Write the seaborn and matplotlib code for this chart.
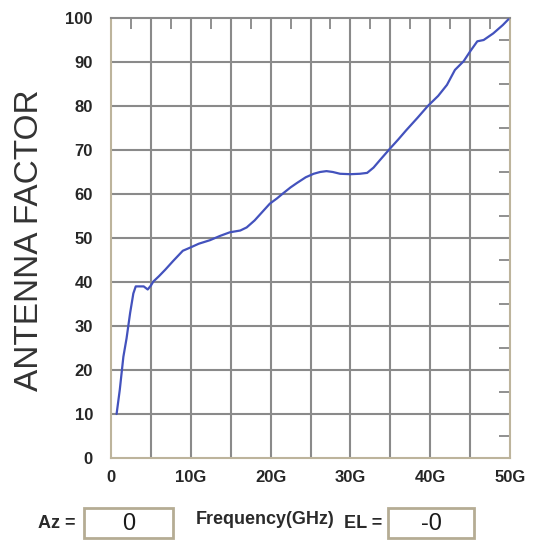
import matplotlib
matplotlib.use("Agg")
import matplotlib.pyplot as plt
from matplotlib.patches import Rectangle
import seaborn as sns
import pandas as pd

# Antenna factor vs frequency (GHz)
freq_ghz = [0.7, 1.1, 1.55, 1.95, 2.4, 2.8, 3.1, 3.6, 4.1, 4.6, 5.0, 5.3,
            6.0, 6.8, 7.8, 9.0, 9.9, 11.0, 12.4, 13.7, 14.9, 16.2, 17.0,
            18.0, 19.0, 19.9, 20.8, 21.6, 22.5, 23.3, 24.4, 25.4, 26.2,
            27.0, 27.8, 28.7, 30.0, 31.2, 32.1, 32.9, 33.7, 35.0, 36.0,
            37.0, 38.4, 39.7, 41.0, 42.1, 43.1, 44.2, 45.0, 45.9, 46.7,
            47.9, 49.1, 49.8]
antenna_factor = [10.0, 15.5, 23.0, 27.2, 33.0, 37.4, 39.0, 39.0, 39.0, 38.3,
                  39.2, 40.1, 41.3, 42.8, 44.8, 47.1, 47.8, 48.7, 49.5,
                  50.5, 51.3, 51.7, 52.4, 54.0, 56.0, 57.8, 59.0, 60.2,
                  61.5, 62.5, 63.8, 64.6, 65.0, 65.2, 65.0, 64.6, 64.5,
                  64.6, 64.8, 66.0, 67.7, 70.4, 72.4, 74.5, 77.3, 80.0,
                  82.3, 84.8, 88.2, 90.2, 92.4, 94.7, 95.0, 96.5, 98.4, 99.7]

x_major = [0, 10, 20, 30, 40, 50]
x_labels = ["0", "10G", "20G", "30G", "40G", "50G"]
y_major = [0, 10, 20, 30, 40, 50, 60, 70, 80, 90, 100]

az_value = "0"
el_value = "-0"

sns.set_style("white")
plt.rcParams["font.family"] = ["Liberation Sans", "DejaVu Sans"]

fig = plt.figure(figsize=(5.39, 5.40), dpi=100)
ax = fig.add_axes([111 / 539, 82 / 540, 399 / 539, 440 / 540])

df = pd.DataFrame({"freq": freq_ghz, "af": antenna_factor})
sns.lineplot(data=df, x="freq", y="af", ax=ax, color="#4352bd",
             linewidth=1.6, zorder=5)

ax.set_xlim(0, 50)
ax.set_ylim(0, 100)

# grid every 5 GHz horizontally and every 10 units vertically
for gx in range(5, 50, 5):
    ax.axvline(gx, color="#8a8a8a", linewidth=1.5, zorder=1)
for gy in range(10, 100, 10):
    ax.axhline(gy, color="#8a8a8a", linewidth=1.5, zorder=1)

ax.set_xticks(x_major)
ax.set_xticklabels(x_labels, fontweight="bold", fontsize=12)
ax.set_yticks(y_major)
ax.set_yticklabels([str(v) for v in y_major], fontweight="bold", fontsize=12)
ax.set_xticks([2.5 + 5 * i for i in range(10)], minor=True)
ax.set_yticks([5 + 10 * i for i in range(10)], minor=True)
ax.tick_params(axis="both", which="major", length=0)
ax.tick_params(axis="x", which="major", pad=9)
ax.tick_params(axis="y", which="major", pad=13)
ax.tick_params(axis="both", which="minor", direction="in", length=8,
               width=1.4, color="#8f8f8f", top=True, right=True)
ax.set_xlabel("")
ax.set_ylabel("")

for side in ["left", "right", "top", "bottom"]:
    ax.spines[side].set_visible(True)
    ax.spines[side].set_color("#bdb49c")
    ax.spines[side].set_linewidth(1.5)
ax.spines["top"].set_color("#8a8a8a")

fig.text(30 / 539, 1 - 240 / 540, "ANTENNA FACTOR", rotation=90,
         fontsize=24, color="#333333", ha="center", va="center")

# bottom control row
fig.text(57 / 539, 1 - 523 / 540, "Az =", fontsize=13, fontweight="bold",
         ha="center", va="center", color="#2a2a2a")
fig.text(265 / 539, 1 - 519 / 540, "Frequency(GHz)", fontsize=13,
         fontweight="bold", ha="center", va="center", color="#2a2a2a")
fig.text(363 / 539, 1 - 524 / 540, "EL =", fontsize=13, fontweight="bold",
         ha="center", va="center", color="#2a2a2a")

for (x0, x1, val) in [(84, 173, az_value), (388, 474, el_value)]:
    fig.patches.append(Rectangle((x0 / 539, 1 - 538 / 540), (x1 - x0) / 539,
                                 30 / 540, transform=fig.transFigure,
                                 facecolor="white", edgecolor="#b5ac94",
                                 linewidth=2.0))
    fig.text((x0 + x1) / 2 / 539, 1 - 524 / 540, val, fontsize=17,
             ha="center", va="center", color="#1a1a1a")

fig.savefig("out.png", dpi=100)
